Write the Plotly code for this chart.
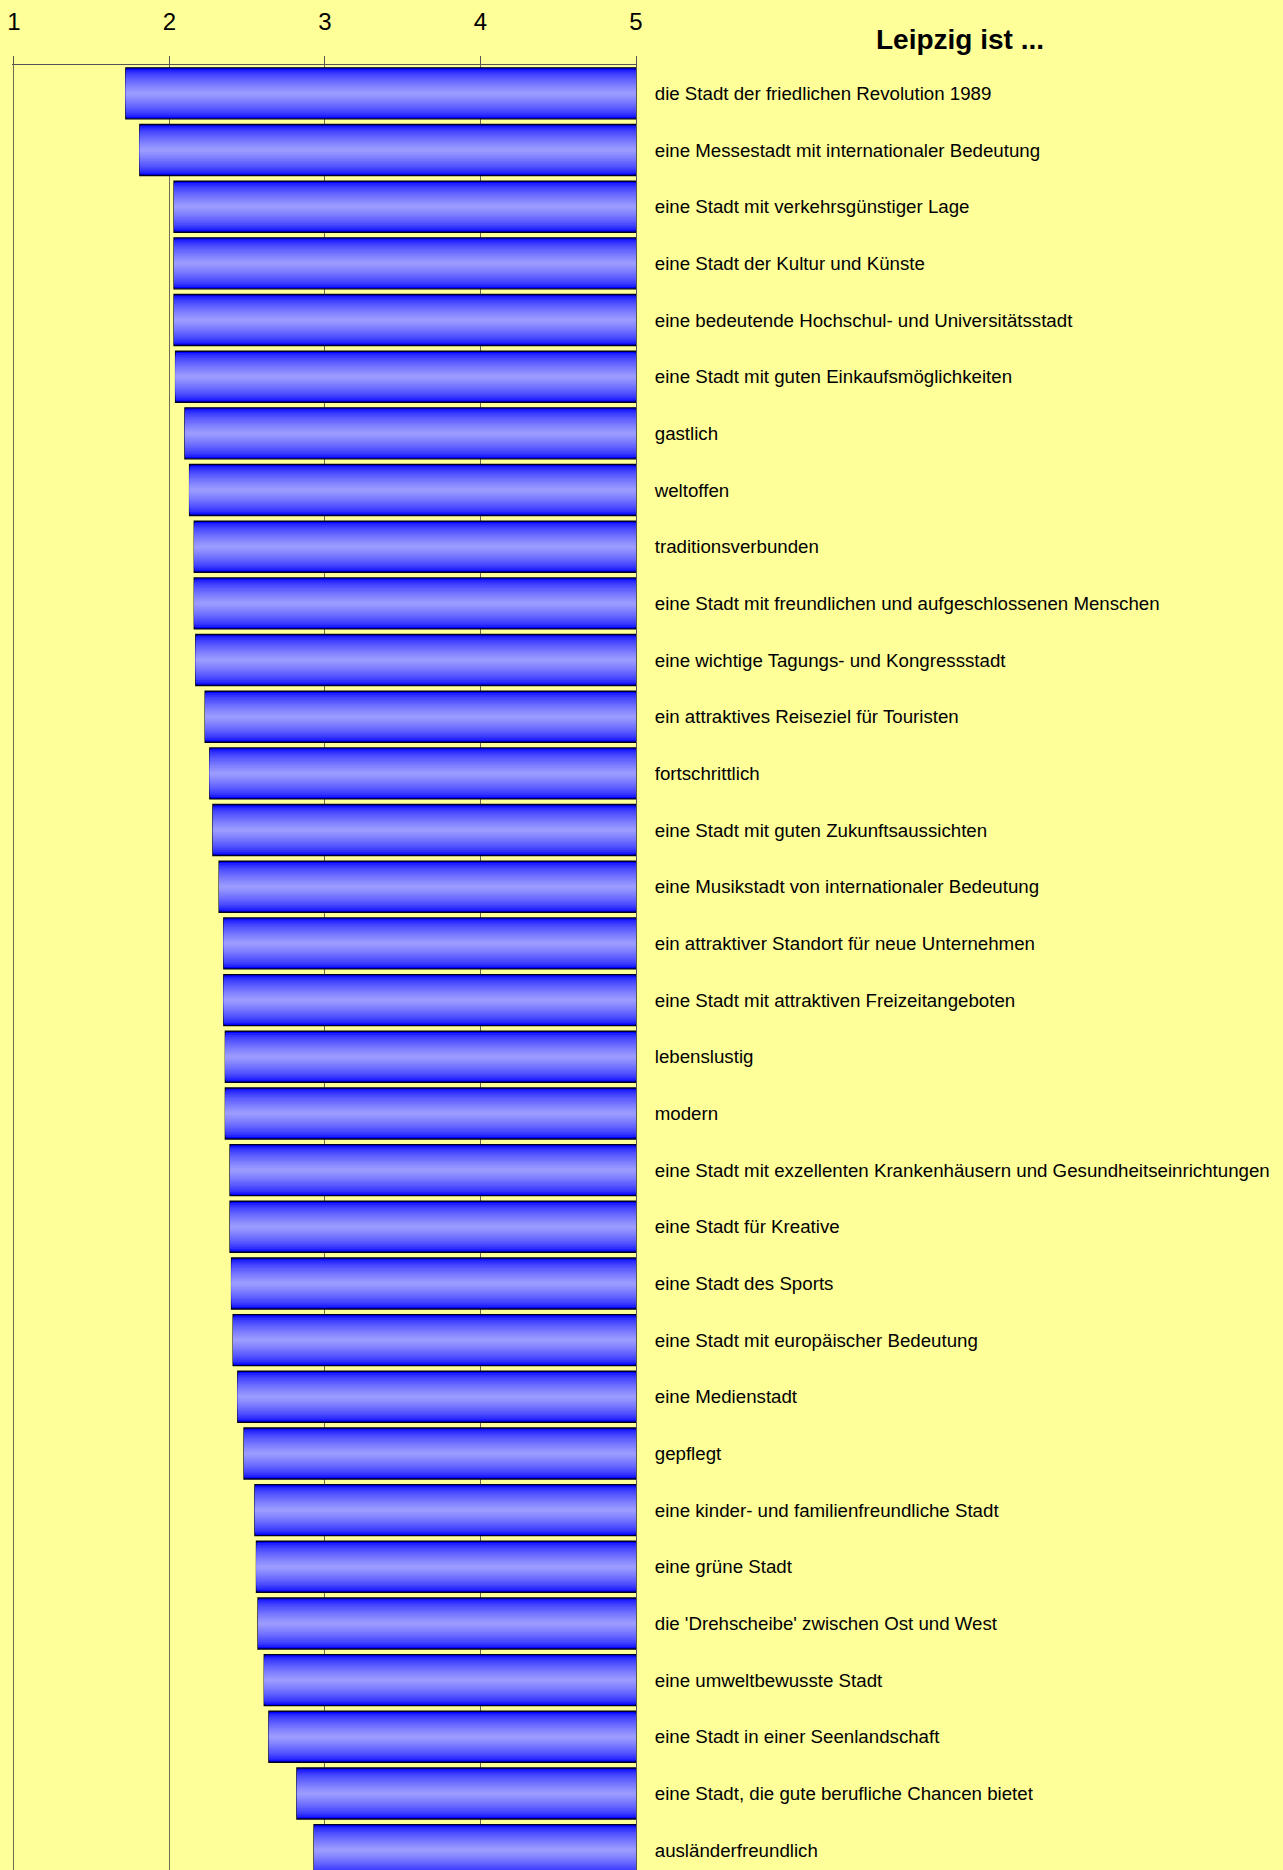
import plotly.graph_objects as go

# Mittelwerte (1 = trifft voll zu ... 5 = trifft gar nicht zu)
aussagen = [
    "die Stadt der friedlichen Revolution 1989",
    "eine Messestadt mit internationaler Bedeutung",
    "eine Stadt mit verkehrsgünstiger Lage",
    "eine Stadt der Kultur und Künste",
    "eine bedeutende Hochschul- und Universitätsstadt",
    "eine Stadt mit guten Einkaufsmöglichkeiten",
    "gastlich",
    "weltoffen",
    "traditionsverbunden",
    "eine Stadt mit freundlichen und aufgeschlossenen Menschen",
    "eine wichtige Tagungs- und Kongressstadt",
    "ein attraktives Reiseziel für Touristen",
    "fortschrittlich",
    "eine Stadt mit guten Zukunftsaussichten",
    "eine Musikstadt von internationaler Bedeutung",
    "ein attraktiver Standort für neue Unternehmen",
    "eine Stadt mit attraktiven Freizeitangeboten",
    "lebenslustig",
    "modern",
    "eine Stadt mit exzellenten Krankenhäusern und Gesundheitseinrichtungen",
    "eine Stadt für Kreative",
    "eine Stadt des Sports",
    "eine Stadt mit europäischer Bedeutung",
    "eine Medienstadt",
    "gepflegt",
    "eine kinder- und familienfreundliche Stadt",
    "eine grüne Stadt",
    "die 'Drehscheibe' zwischen Ost und West",
    "eine umweltbewusste Stadt",
    "eine Stadt in einer Seenlandschaft",
    "eine Stadt, die gute berufliche Chancen bietet",
    "ausländerfreundlich",
]
mittelwerte = [
    1.72, 1.81, 2.03, 2.03, 2.03, 2.04, 2.10, 2.13, 2.16, 2.16, 2.17,
    2.23, 2.26, 2.28, 2.32, 2.35, 2.35, 2.36, 2.36, 2.39, 2.39, 2.40,
    2.41, 2.44, 2.48, 2.55, 2.56, 2.57, 2.61, 2.64, 2.82, 2.93,
]
skala_max = 5
skala_ticks = [1, 2, 3, 4, 5]

fig = go.Figure()

# Excel-Verlauf nachbauen: mehrere Balken übereinander, innen heller
n_layers = 14
for k in range(n_layers):
    t = (k / (n_layers - 1)) ** 0.6
    r = int(0 + 155 * t)
    g = int(0 + 155 * t)
    w = 0.9 * (1 - k / n_layers)
    fig.add_trace(go.Bar(
        y=aussagen,
        x=[skala_max - v for v in mittelwerte],
        base=mittelwerte,
        orientation="h",
        width=w,
        marker=dict(
            color="rgb(%d,%d,255)" % (r, g),
            line=dict(color="#000022", width=1.4 if k == 0 else 0),
        ),
        hoverinfo="skip",
        showlegend=False,
    ))

fig.update_layout(
    width=1283,
    height=1870,
    barmode="overlay",
    paper_bgcolor="#FFFF99",
    plot_bgcolor="#FFFF99",
    margin=dict(l=12, r=647, t=65, b=0),
    font=dict(family="Liberation Sans, Arial, sans-serif", color="black"),
    title=dict(
        text="<b>Leipzig ist ...</b>",
        font=dict(size=28, family="Liberation Sans, Arial, sans-serif"),
        xref="container", yref="container",
        x=960 / 1283, y=1 - 39 / 1870,
        xanchor="center", yanchor="middle",
    ),
    xaxis=dict(
        side="top",
        # etwas Luft links, damit die Linie bei 1 gezeichnet wird
        range=[0.988, 5],
        tickvals=skala_ticks,
        ticks="outside",
        ticklen=8,
        tickcolor="#555555",
        showline=True,
        linecolor="#555555",
        linewidth=1,
        showgrid=True,
        gridcolor="#6e6e50",
        gridwidth=1,
        zeroline=False,
        tickfont=dict(size=24),
        ticklabelstandoff=16,
    ),
    yaxis=dict(
        side="right",
        autorange=False,
        range=[31.35, -0.5],
        showline=True,
        linecolor="#555555",
        linewidth=1,
        ticks="",
        showgrid=False,
        tickfont=dict(size=18.7),
        ticklabelstandoff=14,
    ),
)

fig.write_html(
    "out.html",
    config={"displayModeBar": False},
    post_script="document.body.style.margin='0';document.body.style.background='#FFFF99';",
)
